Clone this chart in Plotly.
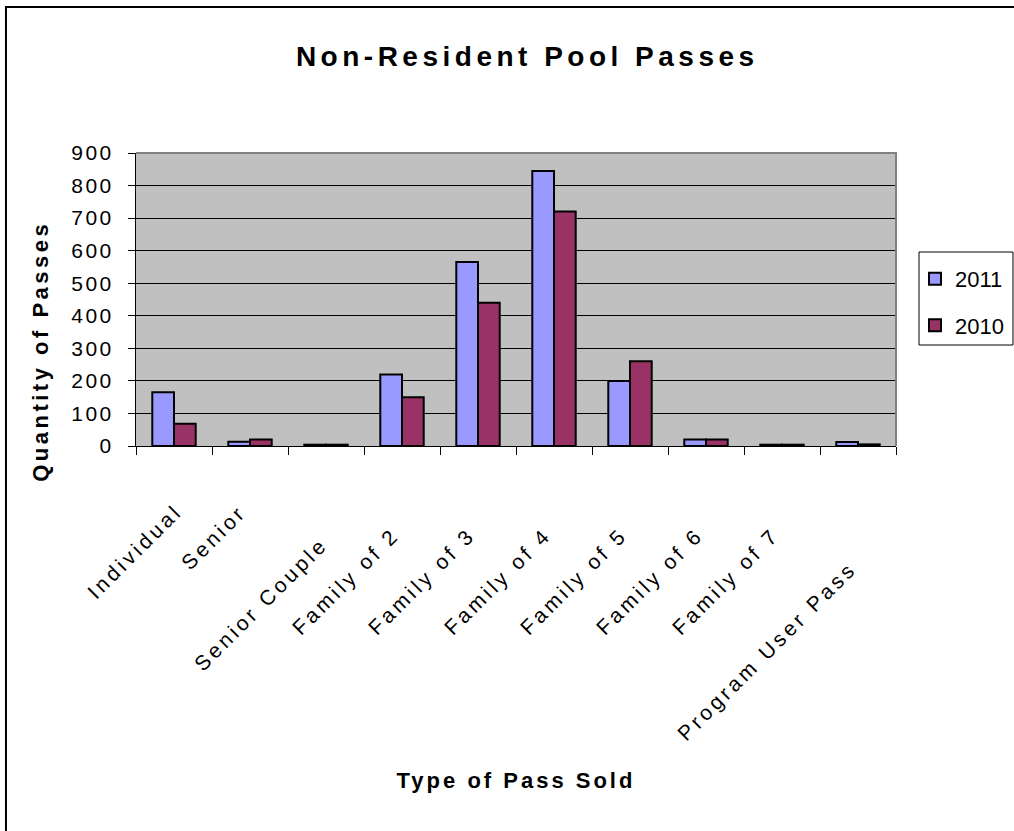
import plotly.graph_objects as go

# ---- data -------------------------------------------------------------
categories = ["Individual", "Senior", "Senior Couple", "Family of 2", "Family of 3",
              "Family of 4", "Family of 5", "Family of 6", "Family of 7",
              "Program User Pass"]
passes_2011 = [165, 13, 4, 220, 565, 845, 200, 20, 4, 12]
passes_2010 = [68, 20, 4, 150, 440, 720, 260, 20, 4, 5]
y_ticks = [0, 100, 200, 300, 400, 500, 600, 700, 800, 900]

# pixel offsets of each rotated category label's centre from its slot
label_dx = [-40, -37, -66, -57, -57, -57, -57, -57, -57, -92]
label_dy = [105, 91, 158, 135, 135, 135, 135, 135, 135, 205]

FONT = "'Liberation Sans Narrow', 'Arial Narrow', 'Liberation Sans', Arial, sans-serif"
C2011 = "#9999FF"
C2010 = "#993366"

fig = go.Figure()
fig.add_trace(go.Bar(name="2011", x=categories, y=passes_2011, legendgroup="a",
                     marker=dict(color=C2011, line=dict(color="black", width=2))))
fig.add_trace(go.Bar(name="2010", x=categories, y=passes_2010, legendgroup="b",
                     marker=dict(color=C2010, line=dict(color="black", width=2))))

annotations = []
for cat, dx, dy in zip(categories, label_dx, label_dy):
    annotations.append(dict(
        x=cat, y=0, xref="x", yref="y", text=cat, showarrow=False,
        textangle=-45, xanchor="center", yanchor="middle",
        xshift=dx, yshift=-dy,
        font=dict(family=FONT, size=21, color="black")))

# vertical axis title
annotations.append(dict(
    x=-0.126, y=0.324, xref="paper", yref="paper", text="Quantity of Passes",
    showarrow=False, textangle=-90, xanchor="center", yanchor="middle",
    font=dict(family=FONT, size=22, color="black", weight="bold")))

shapes = [
    # chart-area frame
    dict(type="rect", xref="paper", yref="paper", x0=-0.1711, x1=1.2, y0=-1.4, y1=1.4983,
         line=dict(color="black", width=2), fillcolor="rgba(0,0,0,0)", layer="above"),
    # plot-area border on top and right
    dict(type="path", xref="paper", yref="paper", path="M0,1 L1,1 L1,0",
         line=dict(color="#808080", width=2), layer="above"),
    # legend frame
    dict(type="rect", xref="paper", yref="paper", x0=1.0303, x1=1.1539, y0=0.3447, y1=0.6621,
         line=dict(color="black", width=1), fillcolor="white", layer="below"),
]

fig.update_layout(
    width=1014, height=831,
    margin=dict(l=136, r=118, t=153, b=385, autoexpand=False),
    paper_bgcolor="white", plot_bgcolor="#C0C0C0",
    font=dict(family=FONT, color="black"),
    title=dict(text="Non-Resident Pool Passes", xref="container", yref="container",
               x=0.52, y=0.9326, xanchor="center", yanchor="middle",
               font=dict(family=FONT, size=28, color="black", weight="bold")),
    barmode="group", bargap=0.4286, bargroupgap=0,
    showlegend=True,
    legend=dict(x=1.025, y=0.642, xanchor="left", yanchor="top",
                borderwidth=0, bgcolor="rgba(0,0,0,0)",
                font=dict(family=FONT, size=22, color="black"),
                tracegroupgap=15, traceorder="grouped"),
    annotations=annotations,
    shapes=shapes,
)

fig.update_xaxes(
    type="category", range=[-0.5, len(categories) - 0.5],
    showticklabels=False, tickson="boundaries",
    ticks="outside", ticklen=8, tickcolor="black", tickwidth=1,
    showline=True, linecolor="black", linewidth=1, showgrid=False,
    title=dict(text="Type of Pass Sold", standoff=326,
               font=dict(family=FONT, size=22, color="black", weight="bold")),
)
fig.update_yaxes(
    range=[0, 900], tickvals=y_ticks, ticktext=[str(v) for v in y_ticks],
    ticks="outside", ticklen=7, tickcolor="black", tickwidth=1,
    ticklabelstandoff=10,
    tickfont=dict(family=FONT, size=21, color="black"),
    showline=True, linecolor="black", linewidth=1,
    showgrid=True, gridcolor="black", gridwidth=1, zeroline=False,
)

css = ("text.gtitle{letter-spacing:4.5px}"
       "text.annotation-text{letter-spacing:3.5px}"
       "text.xtitle{letter-spacing:3px}"
       ".ytick text{letter-spacing:2.5px}")
post = ("var s=document.createElement('style');s.textContent='" + css +
        "';document.head.appendChild(s);")

fig.write_html("out.html", post_script=post)
